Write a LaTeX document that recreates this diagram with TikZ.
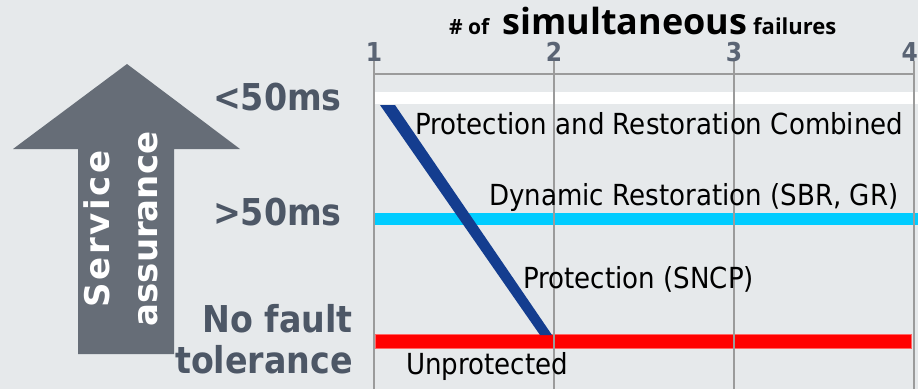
\documentclass[tikz,border=0pt]{standalone}
\usepackage{fontspec}
\setmainfont{DejaVu Sans}[FakeStretch=0.9]
\newfontfamily\arrowfont{DejaVu Sans}
\newfontfamily\spacedfont{DejaVu Sans}[LetterSpace=8]
\newfontfamily\titlefont{Open Sans}
\usetikzlibrary{positioning}
\definecolor{bgcol}{RGB}{230,233,235}
\definecolor{arrowcol}{RGB}{102,109,119}
\definecolor{labelcol}{RGB}{77,87,102}
\definecolor{tickcol}{RGB}{90,100,116}
\definecolor{gridcol}{RGB}{155,155,155}
\definecolor{diagcol}{RGB}{20,61,143}
\definecolor{cyanband}{RGB}{0,204,255}
\definecolor{redband}{RGB}{255,0,0}
\tikzset{
  level/.style={text=labelcol, inner sep=0pt, anchor=base east,
    font=\bfseries\fontsize{37}{40}\selectfont},
  tick/.style={text=tickcol, inner sep=0pt, anchor=base,
    font=\bfseries\fontsize{26}{28}\selectfont},
  mech/.style={inner sep=0pt, anchor=base west,
    font=\fontsize{29}{32}\selectfont},
  headline/.style={inner sep=0pt, anchor=base west},
  gridline/.style={draw=gridcol, line width=1.5pt},
  band/.style={line width=0pt},
}

\begin{document}
\begin{tikzpicture}[x=1pt,y=-1pt]
% Background
\fill[bgcol] (0,0) rectangle (918,389);
\useasboundingbox (0,0) rectangle (918,389);

% Service assurance arrow
\fill[arrowcol] (127,64) -- (240,149) -- (174,149) -- (174,354)
    -- (78,354) -- (78,149) -- (13,149) -- cycle;
\node[rotate=90,
    align=center,
    inner sep=0pt,
    text=white,
    font=\arrowfont\bfseries\fontsize{34}{48}\selectfont
] (assure) at (121,229) {{\spacedfont\bfseries Service}\\assurance};

% Levels
\node[level] (fast) at (342,110) {<50ms};
\node[level] (slow) at (342,225) {>50ms};
\node[level] (nofault) at (353,332) {No fault};
\node[level] (tolerance) at ([yshift=-41pt]nofault.base east) {tolerance};

% Title
\node[headline, font=\titlefont\bfseries\fontsize{21}{23}\selectfont] (hash) at (449,34) {\# of};
\node[headline, font=\titlefont\bfseries\fontsize{36}{38}\selectfont] (simul) at (502,34) {simultaneous};
\node[headline, font=\titlefont\bfseries\fontsize{22}{24}\selectfont] (fails) at (753,34) {failures};

% Bands
\fill[white] (375,92) rectangle (918,104);
\fill[cyanband] (375,213) rectangle (918,225);
\fill[redband, draw=redband!60!white, band] (375,334) rectangle (911,348);
\fill[diagcol] (380,105) -- (395,105) -- (552,335) -- (540,335) -- cycle;

% Grid
\draw[gridline] (374,74) -- (914,74);
\foreach \n/\x in {1/374,2/554,3/734}{
  \draw[gridline] (\x,61) -- (\x,389);
  \node[tick] (t\n) at (\x,61) {\n};
}
\draw[gridline] (914,61) -- (914,389);
\node[tick, anchor=base east] (t4) at (918,61) {4};

% Mechanisms
\node[mech] (combined) at (415,134) {Protection and Restoration Combined};
\node[mech] (dynamic) at (489,205) {Dynamic Restoration (SBR, GR)};
\node[mech] (sncp) at (523,288) {Protection (SNCP)};
\node[mech] (unprot) at (406,374) {Unprotected};

\end{tikzpicture}
\end{document}
